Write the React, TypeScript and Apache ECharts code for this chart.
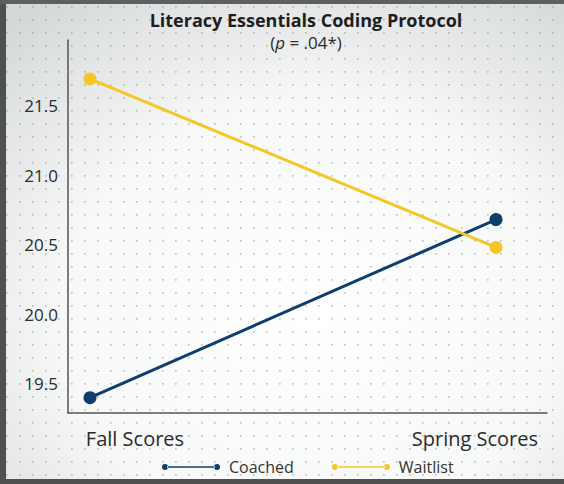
import React, { useEffect, useRef } from "react";
import * as echarts from "echarts";

const categories = ["Fall Scores", "Spring Scores"];
const coached = [19.4, 20.68];
const waitlist = [21.69, 20.48];
const yTicks = [19.5, 20.0, 20.5, 21.0, 21.5];
const seriesNames = ["Coached", "Waitlist"];

const NAVY = "#0f3d6e";
const YELLOW = "#f4c727";
const FONT = "'Open Sans', 'Noto Sans', sans-serif";

function makeDots(): HTMLCanvasElement {
  const c = document.createElement("canvas");
  c.width = 13;
  c.height = 13;
  const ctx = c.getContext("2d")!;
  ctx.fillStyle = "rgba(140,140,140,0.5)";
  ctx.fillRect(6, 6, 1.7, 1.7);
  return c;
}

const legendIcon =
  "path://M0,4a3,3 0 1,0 6,0a3,3 0 1,0 -6,0z M5,3.2L53,3.2L53,4.8L5,4.8z M52,4a3,3 0 1,0 6,0a3,3 0 1,0 -6,0z";

export default function App() {
  const ref = useRef<HTMLDivElement>(null);
  useEffect(() => {
    document.body.style.margin = "0";
    const chart = echarts.init(ref.current!, null, { renderer: "svg" });
    const xMin = -0.0542;
    const xMax = 1.1256;
    chart.setOption({
      animation: false,
      graphic: [
        {
          type: "rect",
          z: -10,
          silent: true,
          shape: { x: 0, y: 0, width: 564, height: 484 },
          style: {
            fill: {
              type: "radial",
              x: 0.55,
              y: 0.65,
              r: 0.8,
              colorStops: [
                { offset: 0, color: "#ffffff" },
                { offset: 0.55, color: "#f7f8f8" },
                { offset: 1, color: "#d5d8d9" },
              ],
            },
          },
        },
        {
          type: "rect",
          z: -9,
          silent: true,
          shape: { x: 6, y: 4, width: 558, height: 475 },
          style: { fill: { image: makeDots(), repeat: "repeat" } as any },
        },
        { type: "rect", z: 10, silent: true, shape: { x: 0, y: 0, width: 6, height: 484 }, style: { fill: "#4f5050" } },
        { type: "rect", z: 10, silent: true, shape: { x: 0, y: 0, width: 564, height: 4 }, style: { fill: "#5e5f60" } },
        { type: "rect", z: 10, silent: true, shape: { x: 0, y: 479, width: 564, height: 5 }, style: { fill: "#4f5050" } },
      ],
      title: {
        text: "Literacy Essentials Coding Protocol",
        subtext: "({i|p} = .04*)",
        left: 301,
        textAlign: "center",
        top: 6,
        itemGap: 5,
        textStyle: { fontFamily: FONT, fontSize: 18, fontWeight: "bold", color: "#1e1e1e" },
        subtextStyle: {
          fontFamily: FONT,
          fontSize: 17,
          color: "#2a2a2a",
          rich: { i: { fontFamily: FONT, fontSize: 17, fontStyle: "italic", color: "#2a2a2a" } },
        },
      },
      legend: {
        data: [
          { name: seriesNames[0], itemStyle: { color: NAVY, borderColor: NAVY, borderWidth: 0 } },
          { name: seriesNames[1], itemStyle: { color: YELLOW, borderColor: YELLOW, borderWidth: 0 } },
        ],
        bottom: 4,
        left: 157,
        itemWidth: 58,
        itemHeight: 6,
        itemGap: 38,
        icon: legendIcon,
        textStyle: { fontFamily: FONT, fontSize: 16, color: "#333", padding: [0, 0, 0, 4] },
      },
      grid: { left: 68, right: 17, top: 40, bottom: 71 },
      xAxis: {
        type: "value",
        min: xMin,
        max: xMax,
        splitLine: { show: false },
        axisTick: { show: false },
        axisLine: { show: true, onZero: false, lineStyle: { color: "#555", width: 1.5 } },
        axisLabel: {
          customValues: [0.1108, 0.948],
          formatter: (v: number) => (v < 0.5 ? categories[0] : categories[1]),
          margin: 15,
          fontFamily: FONT,
          fontSize: 20,
          color: "#2b2b2b",
        },
      },
      yAxis: {
        type: "value",
        min: 19.29,
        max: 21.97,
        splitLine: { show: false },
        axisTick: { show: false },
        axisLine: { show: true, onZero: false, lineStyle: { color: "#555", width: 1.5 } },
        axisLabel: {
          customValues: yTicks,
          formatter: (v: number) => v.toFixed(1),
          margin: 10,
          fontFamily: FONT,
          fontSize: 17,
          color: "#2b2b2b",
        },
      },
      series: [
        {
          name: seriesNames[0],
          type: "line",
          data: coached.map((v, i) => [i, v]),
          symbol: "circle",
          symbolSize: 13,
          lineStyle: { color: NAVY, width: 3 },
          itemStyle: { color: NAVY },
        },
        {
          name: seriesNames[1],
          type: "line",
          data: waitlist.map((v, i) => [i, v]),
          symbol: "circle",
          symbolSize: 13,
          lineStyle: { color: YELLOW, width: 3 },
          itemStyle: { color: YELLOW },
        },
      ],
    });
    return () => chart.dispose();
  }, []);
  return <div ref={ref} style={{ width: 564, height: 484, position: "absolute", left: 0, top: 0 }} />;
}
